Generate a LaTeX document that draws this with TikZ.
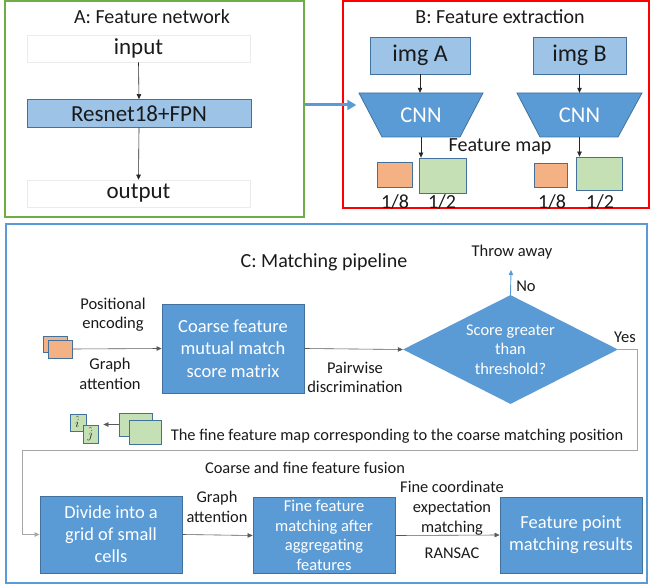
\documentclass[tikz,border=0pt]{standalone}
\usepackage{fontspec}
\setmainfont{Carlito}
\usetikzlibrary{arrows.meta,shapes.geometric,calc}
\definecolor{bluebox}{HTML}{5B9BD5}
\definecolor{blueline}{HTML}{41719C}
\definecolor{lightblue}{HTML}{9DC3E6}
\definecolor{orangebox}{HTML}{F4B183}
\definecolor{greenbox}{HTML}{C5E0B4}
\definecolor{framegreen}{HTML}{70AD47}
\definecolor{framered}{HTML}{FF0000}
\definecolor{frameblue}{HTML}{5B9BD5}
\definecolor{loopgray}{HTML}{A6A6A6}
\definecolor{txt}{HTML}{1A1A1A}
\newcommand{\fs}[2]{\fontsize{#1}{#2}\selectfont}
\begin{document}
\begin{tikzpicture}[x=1pt,y=-1pt,
  frame/.style={draw, inner sep=0pt},
  lbl/.style={text=txt, inner sep=0pt, align=center},
  bluebox/.style={fill=bluebox, draw=blueline, line width=0.8pt, text=white, align=center, inner sep=0pt},
  lightbox/.style={fill=lightblue, draw=blueline, line width=0.8pt, text=txt, align=center, inner sep=0pt},
  plainbox/.style={fill=white, draw=black!8, line width=0.6pt, text=txt, inner sep=0pt},
  orbox/.style={fill=orangebox, draw=blueline, line width=0.8pt, inner sep=0pt},
  grbox/.style={fill=greenbox, draw=blueline, line width=0.8pt, inner sep=0pt},
  arr/.style={-{Triangle[length=5pt,width=4.5pt]}, line width=0.6pt, draw=black!85},
  garr/.style={-{Triangle[length=5pt,width=4.5pt]}, line width=0.6pt, draw=black!65},
  looparr/.style={-{Triangle[length=5pt,width=4.5pt]}, line width=1pt, draw=loopgray},
]
\useasboundingbox (0,0) rectangle (651,588);
\coordinate (bigY) at (0,105);

% ---------- A ----------
\node[frame, draw=framegreen, line width=1.6pt, minimum width=299pt, minimum height=216pt] (boxA) at (154.5,109) {};
\node[lbl, font=\fs{20}{24}] (titleA) at (152,17) {A: Feature network};
\node[plainbox, minimum width=223pt, minimum height=27pt, font=\fs{23}{27}] (input) at (138.5,48.5) {input};
\node[lightbox, minimum width=224pt, minimum height=28pt, font=\fs{23}{27}] (resnet) at (139,113.5) {Resnet18+FPN};
\node[plainbox, minimum width=223pt, minimum height=27pt, font=\fs{23}{27}] (output) at (138.5,193.5) {output};
\draw[arr] (input.south) -- (resnet.north);
\draw[arr] (resnet.south) -- (output.north);

% ---------- B ----------
\node[frame, draw=framered, line width=1.4pt, minimum width=306pt, minimum height=207pt] (boxB) at (496,104.5) {};
\node[lbl, font=\fs{20}{24}] (titleB) at (500,17) {B: Feature extraction};
\draw[line width=3pt, draw=frameblue, -{Triangle[length=9pt,width=10pt]}, shorten >=-14pt] (boxA.east |- bigY) -- (boxB.west |- bigY);

\node[lightbox, minimum width=100pt, minimum height=37pt, font=\fs{24}{28}] (imgA) at (420,55.5) {img A};
\node[lightbox, minimum width=93pt, minimum height=37pt, font=\fs{24}{28}] (imgB) at (579.5,55.5) {img B};

\fill[bluebox] (359,93) -- (483,93) -- (460,137) -- (382,137) -- cycle;
\fill[bluebox] (517,93) -- (642,93) -- (618,137) -- (540,137) -- cycle;
\node[lbl, text=white, minimum width=78pt, minimum height=44pt, font=\fs{22.5}{26}] (cnnA) at (421,115) {CNN};
\node[lbl, text=white, minimum width=78pt, minimum height=44pt, font=\fs{22.5}{26}] (cnnB) at (579.5,115) {CNN};
\draw[arr] (imgA.south) -- (imgA.south |- cnnA.north);
\draw[arr] (imgB.south) -- (imgB.south |- cnnB.north);

\node[lbl, font=\fs{20}{24}] (fmap) at (500,147) {Feature map};
\node[orbox, minimum width=35pt, minimum height=25pt] (orA) at (394.5,174.5) {};
\node[grbox, minimum width=47pt, minimum height=35pt] (grA) at (442.5,175.5) {};
\node[orbox, minimum width=33pt, minimum height=24pt] (orB) at (550.5,175) {};
\node[grbox, minimum width=46pt, minimum height=33pt] (grB) at (599,173.5) {};
\draw[arr] (cnnA.south) -- (cnnA.south |- grA.north);
\draw[arr] (cnnB.south) -- (cnnB.south |- grB.north);
\node[lbl, font=\fs{20}{24}] (eA) at (395,201.5) {1/8};
\node[lbl, font=\fs{20}{24}] (hA) at (442,201.5) {1/2};
\node[lbl, font=\fs{20}{24}] (eB) at (552,201.5) {1/8};
\node[lbl, font=\fs{20}{24}] (hB) at (600,201.5) {1/2};

% ---------- C ----------
\node[frame, draw=frameblue, line width=2.4pt, minimum width=641pt, minimum height=359pt] (boxC) at (326.5,403.5) {};
\node[lbl, font=\fs{20}{24}] (titleC) at (324,262) {C: Matching pipeline};

\node[lbl, font=\fs{16.5}{19}] (posenc) at (113,314.5) {Positional\\encoding};
\node[lbl, font=\fs{16.5}{20}] (ga1) at (110,374) {Graph\\attention};
\node[orbox, minimum width=24pt, minimum height=16pt] (orback) at (55,344) {};
\node[orbox, minimum width=24pt, minimum height=18pt] (orfront) at (60,349) {};
\node[bluebox, minimum width=142pt, minimum height=89pt, font=\fs{18.5}{22.5}] (coarse) at (233,348.5) {Coarse feature\\mutual match\\score matrix};
\draw[garr] (orfront.east) -- (coarse.west);

\node[diamond, fill=bluebox, inner sep=0pt, minimum width=215pt, minimum height=109pt, aspect=2] (dia) at (510.5,349.5) {};
\node[lbl, text=white, font=\fs{16.4}{19.5}] (diatext) at (dia.center) {Score greater\\than\\threshold?};
\draw[garr] (coarse.east) -- (dia.west);
\node[lbl, font=\fs{16.5}{19}] (pairw) at (355,377.5) {Pairwise\\discrimination};

\coordinate (throwpt) at (511,270);
\draw[-{Triangle[length=5pt,width=4.5pt]}, line width=0.9pt, draw=frameblue] (dia.north) -- (throwpt);
\node[lbl, font=\fs{16.5}{19}] (no) at (526,286) {No};
\node[lbl, font=\fs{16.5}{19}] (throw) at (512,252) {Throw away};
\node[lbl, font=\fs{16.5}{19}] (yes) at (625,337) {Yes};

% fine feature map line
\node[grbox, minimum width=16pt, minimum height=17pt] (ihat) at (78,422.5) {};
\node[grbox, minimum width=15pt, minimum height=18pt] (jhat) at (90.5,434) {};
\node[lbl, font=\fs{13}{15}] (ihatt) at (77.5,422) {$\hat{i}$};
\node[lbl, font=\fs{13}{15}] (jhatt) at (90.5,434) {$\hat{j}$};
\node[grbox, minimum width=33pt, minimum height=23pt] (gback) at (135.5,424.5) {};
\node[grbox, minimum width=32pt, minimum height=24pt] (gfront) at (145,432) {};
\draw[garr, shorten >=5pt] (gback.west) -- (gback.west -| jhat.east);
\node[lbl, font=\fs{16.4}{19}] (finemap) at (397,436) {The fine feature map corresponding to the coarse matching position};

% loop
\coordinate (l1) at (637,450);
\coordinate (l2) at (22,450);
\node[bluebox, minimum width=142pt, minimum height=77pt, font=\fs{18.4}{22}] (divide) at (111,534.5) {Divide into a\\grid of small\\cells};
\draw[looparr] (dia.east) -| (l1) -- (l2) |- (divide.west);
\node[lbl, font=\fs{16.4}{19}] (fusion) at (305,468) {Coarse and fine feature fusion};

\node[lbl, font=\fs{16.4}{20}] (ga2) at (217,507) {Graph\\attention};
\node[bluebox, minimum width=142pt, minimum height=76pt, font=\fs{16.5}{19.7}] (fine) at (324,535.5) {Fine feature\\matching after\\aggregating\\features};
\draw[garr] (divide.east) -- (fine.west);

\node[lbl, font=\fs{16.4}{20}] (fcoord) at (452,508) {Fine coordinate\\expectation\\matching};
\node[lbl, font=\fs{16.4}{19}] (ransac) at (452,553) {RANSAC};
\node[bluebox, minimum width=142pt, minimum height=76pt, font=\fs{18.5}{22}] (fpoint) at (571,535) {Feature point\\matching results};
\draw[garr] (fine.east) -- (fpoint.west);
\end{tikzpicture}
\end{document}
